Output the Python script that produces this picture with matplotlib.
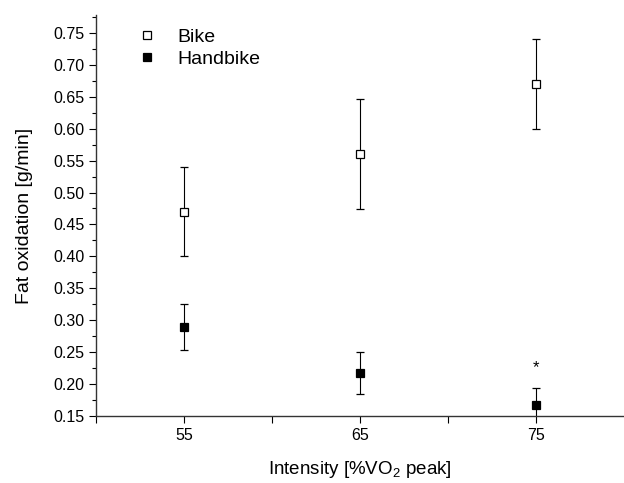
import matplotlib
matplotlib.use("Agg")
import matplotlib.pyplot as plt
from matplotlib.ticker import MultipleLocator, FixedLocator, FormatStrFormatter
from matplotlib.lines import Line2D

plt.rcParams['font.family'] = ['Liberation Sans', 'DejaVu Sans']
plt.rcParams['mathtext.fontset'] = 'custom'
plt.rcParams['mathtext.rm'] = 'Liberation Sans'

intensity = [55, 65, 75]
bike = [0.470, 0.560, 0.670]
bike_err = [0.070, 0.086, 0.070]
handbike = [0.289, 0.217, 0.168]
handbike_err = [0.036, 0.033, 0.026]

fig = plt.figure(figsize=(6.24, 4.83), dpi=100)
ax = fig.add_axes([96 / 624, 1 - 416 / 483, 1 - 96 / 624, (416 - 15) / 483])

ax.errorbar(intensity, bike, yerr=bike_err, fmt='s', mfc='white', mec='black',
            ms=5.5, mew=0.9, ecolor='black', elinewidth=0.8, capsize=3, capthick=0.8)
ax.errorbar(intensity, handbike, yerr=handbike_err, fmt='s', mfc='black', mec='black',
            ms=5.5, mew=0.9, ecolor='black', elinewidth=0.8, capsize=3, capthick=0.8)
ax.text(75, 0.226, '*', ha='center', va='center', fontsize=12)

ax.set_xlim(50, 80)
ax.set_ylim(0.15, 0.778)
ax.xaxis.set_major_locator(FixedLocator([55, 65, 75]))
ax.xaxis.set_minor_locator(FixedLocator([50, 60, 70]))
ax.yaxis.set_major_locator(FixedLocator([0.15 + 0.05 * i for i in range(13)]))
ax.yaxis.set_minor_locator(MultipleLocator(0.025))
ax.yaxis.set_major_formatter(FormatStrFormatter('%.2f'))

ax.spines['top'].set_visible(False)
ax.spines['right'].set_visible(False)
for s in ['left', 'bottom']:
    ax.spines[s].set_linewidth(1.0)
    ax.spines[s].set_color('#333333')
ax.tick_params(axis='both', which='major', direction='out', length=5, width=0.8, labelsize=11.5)
ax.tick_params(axis='both', which='minor', direction='out', length=3, width=0.8)
ax.tick_params(axis='x', which='minor', length=5)

ax.set_xlabel('Intensity [%VO$_\\mathregular{2}$ peak]', fontsize=13.5, labelpad=12)
ax.set_ylabel('Fat oxidation [g/min]', fontsize=14, labelpad=14)

handles = [
    Line2D([], [], ls='none', marker='s', ms=5.5, mfc='white', mec='black', mew=0.9),
    Line2D([], [], ls='none', marker='s', ms=5.5, mfc='black', mec='black', mew=0.9),
]
ax.legend(handles, ['Bike', 'Handbike'], loc='upper left', bbox_to_anchor=(0.027, 1.01),
          frameon=False, fontsize=14, handletextpad=0.55, labelspacing=0.2)

fig.savefig('out.png', dpi=100)
